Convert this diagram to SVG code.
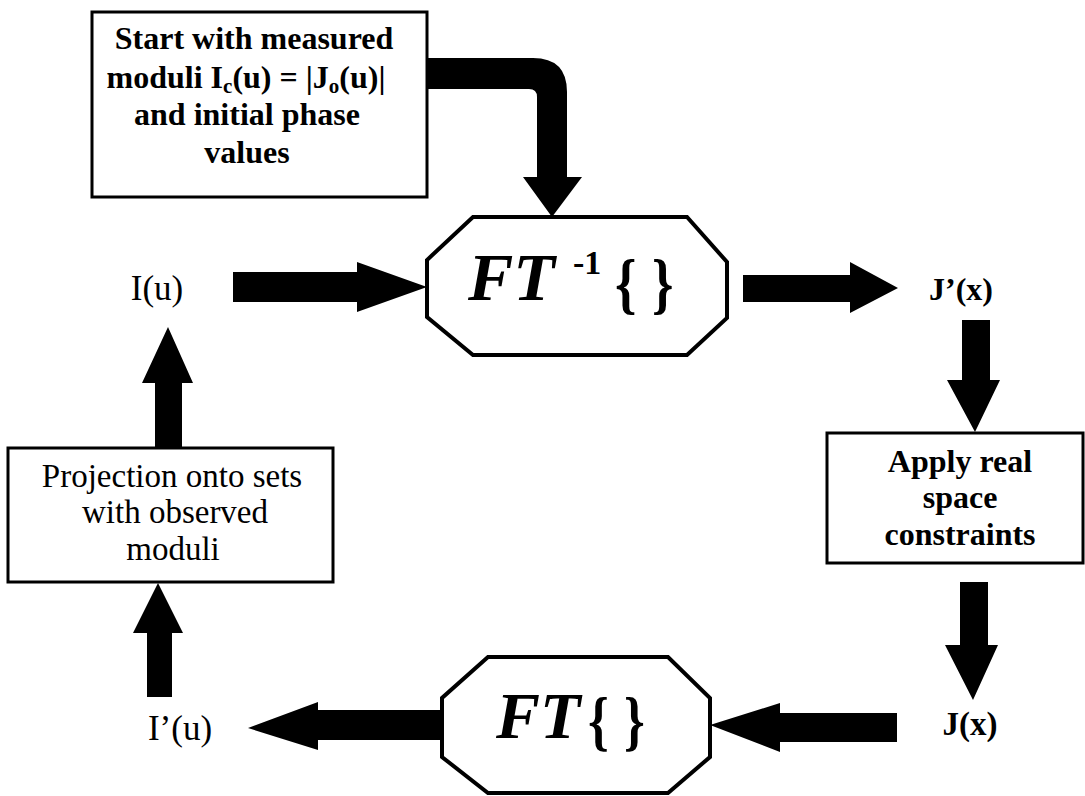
<svg xmlns="http://www.w3.org/2000/svg" width="1085" height="796" viewBox="0 0 1085 796">
<defs>
<style>
.box{fill:#fff;stroke:#000;stroke-width:3}
.oct{fill:#fff;stroke:#000;stroke-width:4;stroke-linejoin:miter}
.t{font-family:"Liberation Serif","Times New Roman",serif;fill:#000;text-anchor:middle}
.b{font-weight:bold}
.arr{fill:#000;stroke:none}
.ft{font-family:"Liberation Serif","Times New Roman",serif;font-weight:bold;fill:#000}
</style>
</defs>
<rect width="1085" height="796" fill="#fff"/>
<g id="connectors">
<path class="arr" d="M425,58 L533,58 Q567,58 567,92 L567,177 L582,177 L552,217 L523,177 L537,177 L537,97 Q537,89 529,89 L425,89 Z"/>
<path class="arr" d="M233,272 L357,272 L357,262 L427,287 L357,312 L357,302 L233,302 Z"/>
<path class="arr" d="M743,275 L850,275 L850,262 L898,288 L850,313 L850,302 L743,302 Z"/>
<path class="arr" d="M962,320 L990,320 L990,380 L1000,380 L975,432 L947,380 L962,380 Z"/>
<path class="arr" d="M960,582 L988,582 L988,645 L998,645 L973,700 L945,645 L960,645 Z"/>
<path class="arr" d="M897,713 L897,742 L780,742 L780,752 L710,725 L780,703 L780,713 Z"/>
<path class="arr" d="M442,710 L442,740 L318,740 L318,750 L248,728 L318,702 L318,710 Z"/>
<path class="arr" d="M147,697 L172,697 L172,633 L183,633 L158,583 L133,633 L147,633 Z"/>
<path class="arr" d="M155,448 L182,448 L182,383 L193,383 L168,327 L142,383 L155,383 Z"/>
</g>
<g id="start">
<rect class="box" x="92" y="12" width="335" height="185"/>
<text class="t b" font-size="32" x="254" y="49">Start with measured</text>
<text class="t b" font-size="32" x="246" y="88">moduli I<tspan font-size="21" dy="5">c</tspan><tspan dy="-5">(u) = |J</tspan><tspan font-size="21" dy="5">o</tspan><tspan dy="-5">(u)|</tspan></text>
<text class="t b" font-size="32" x="247" y="125">and initial phase</text>
<text class="t b" font-size="32" x="247" y="163">values</text>
</g>
<g id="ift">
<polygon class="oct" points="473,217 687,217 727,262 727,318 687,355 473,355 427,317 427,260"/>
<text class="ft" font-style="italic" font-size="68" x="468" y="300">FT</text>
<text class="ft" font-size="34" x="573" y="274">-1</text>
<text class="ft" font-size="68" transform="translate(615,306) scale(0.8,1)">{</text>
<text class="ft" font-size="68" transform="translate(652,306) scale(0.8,1)">}</text>
</g>
<g id="Iu">
<text class="t" font-size="35" x="157" y="300">I(u)</text>
</g>
<g id="Jpx">
<text class="t b" font-size="32" x="961" y="300">J’(x)</text>
</g>
<g id="apply">
<rect class="box" x="827" y="433" width="256" height="130"/>
<text class="t b" font-size="32" x="960" y="472">Apply  real</text>
<text class="t b" font-size="32" x="960" y="508">space</text>
<text class="t b" font-size="32" x="960" y="545">constraints</text>
</g>
<g id="Jx">
<text class="t b" font-size="33" x="970" y="735">J(x)</text>
</g>
<g id="ft">
<polygon class="oct" points="488,657 668,657 710,698 710,757 668,793 488,793 442,757 442,698"/>
<text class="ft" font-style="italic" font-size="66" x="496" y="738">FT</text>
<text class="ft" font-size="66" transform="translate(588,743) scale(0.8,1)">{</text>
<text class="ft" font-size="66" transform="translate(624,743) scale(0.8,1)">}</text>
</g>
<g id="Ipu">
<text class="t" font-size="35" x="180" y="740">I’(u)</text>
</g>
<g id="proj">
<rect class="box" x="8" y="448" width="325" height="134"/>
<text class="t" font-size="33" x="172" y="487">Projection onto sets</text>
<text class="t" font-size="33" x="175" y="523">with observed</text>
<text class="t" font-size="33" x="173" y="560">moduli</text>
</g>
</svg>
